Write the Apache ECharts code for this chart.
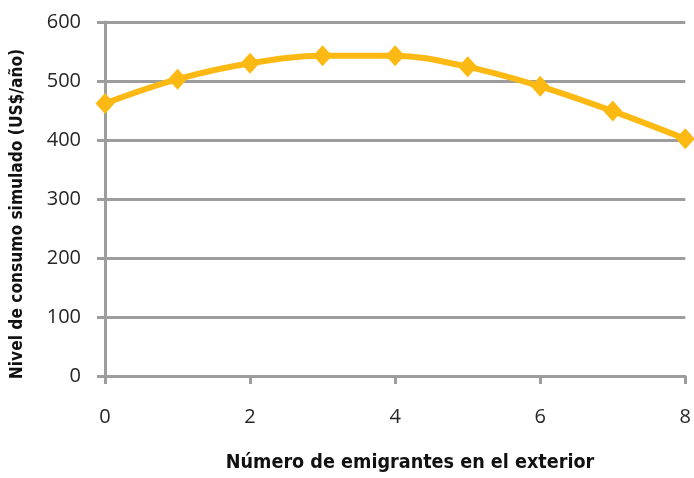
<!DOCTYPE html>
<html>
<head>
<meta charset="utf-8">
<script src="https://cdn.jsdelivr.net/npm/echarts@6/dist/echarts.min.js"></script>
<style>
  html, body { margin: 0; padding: 0; background: #fff; }
  #chart { width: 694px; height: 478px; }
</style>
</head>
<body>
<div id="chart"></div>
<script>
// Simulated consumption by number of emigrants abroad
const emigrants = [0, 1, 2, 3, 4, 5, 6, 7, 8];
const consumption = [462, 503, 530, 543, 543, 524, 491, 449, 402];
const yTicks = [0, 100, 200, 300, 400, 500, 600];
const xTitle = 'Número de emigrantes en el exterior';
const yTitle = 'Nivel de consumo simulado (US$/año)';

const chart = echarts.init(document.getElementById('chart'));
const gray = '#9d9d9d';
const tickFont = { fontFamily: 'Open Sans', fontSize: 20, color: '#262626' };
const titleFont = { fontFamily: 'DejaVu Sans Condensed', fontWeight: 'bold', fill: '#111' };

chart.setOption({
  animation: false,
  grid: { left: 105, right: 7, top: 22, bottom: 102 },
  xAxis: {
    type: 'value',
    min: 0, max: 8, interval: 2,
    axisLine: { show: true, lineStyle: { color: gray, width: 3 } },
    axisTick: { show: true, length: 8, lineStyle: { color: gray, width: 3 } },
    axisLabel: Object.assign({ margin: 31 }, tickFont),
    splitLine: { show: false }
  },
  yAxis: {
    type: 'value',
    min: yTicks[0], max: yTicks[yTicks.length - 1], interval: 100,
    axisLine: { show: true, lineStyle: { color: gray, width: 3 } },
    axisTick: { show: true, length: 8, lineStyle: { color: gray, width: 3 } },
    axisLabel: Object.assign({ margin: 24 }, tickFont),
    splitLine: { show: true, lineStyle: { color: gray, width: 3 } }
  },
  graphic: [
    {
      type: 'text',
      x: 410, y: 463,
      style: Object.assign({ text: xTitle, fontSize: 19.6, align: 'center', verticalAlign: 'middle' }, titleFont)
    },
    {
      type: 'text',
      x: 18, y: 214,
      rotation: Math.PI / 2,
      style: Object.assign({ text: yTitle, fontSize: 17.2, align: 'center', verticalAlign: 'middle' }, titleFont)
    }
  ],
  series: [{
    type: 'line',
    data: emigrants.map((x, i) => [x, consumption[i]]),
    smooth: 0.35,
    symbol: 'diamond',
    symbolSize: [19, 21],
    lineStyle: { color: '#FDB913', width: 6 },
    itemStyle: { color: '#FDB913' }
  }]
});
</script>
</body>
</html>
